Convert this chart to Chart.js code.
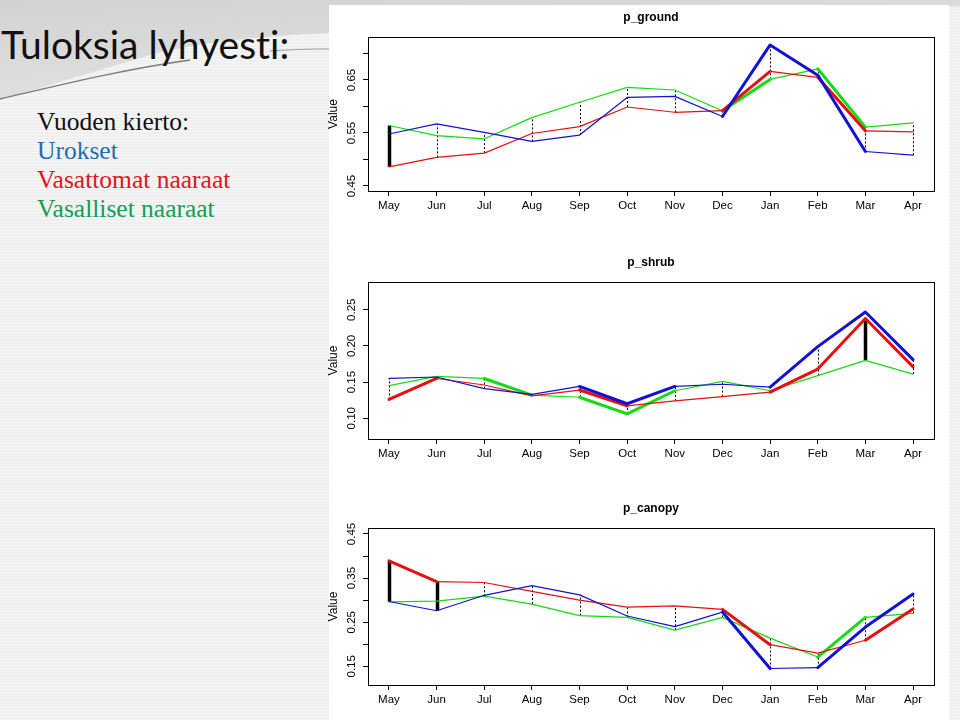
<!DOCTYPE html>
<html>
<head>
<meta charset="utf-8">
<script src="https://cdn.jsdelivr.net/npm/chart.js@4.4.1/dist/chart.umd.min.js"></script>
<style>
  body { margin: 0; width: 960px; height: 720px; overflow: hidden; position: relative;
         background: repeating-linear-gradient(0deg, #f6f6f6 0 1px, #efefef 1px 3px); }
  #swoosh { position: absolute; left: 0; top: 0; }
  #paper { position: absolute; left: 329px; top: 5px; width: 620px; height: 715px; background: #fff; }
  #heading { position: absolute; left: 1px; top: 25px; font: 39px/39px Lato, "Liberation Sans", sans-serif;
             font-variant-ligatures: none; font-feature-settings: "liga" 0, "clig" 0;
             color: #111; white-space: nowrap; }
  #notes { position: absolute; left: 37px; top: 107px; font: 25.5px/29px "Liberation Serif", "Times New Roman", serif; color: #111; white-space: nowrap; }
  .m { color: #1f6db3; }
  .f0 { color: #e3141b; }
  .f1 { color: #11a052; }
  canvas { position: absolute; left: 320px; }
</style>
</head>
<body>
<svg id="swoosh" width="960" height="120">
  <defs>
    <linearGradient id="g" x1="0" y1="0" x2="0.6" y2="1">
      <stop offset="0" stop-color="#d2d2d2"/>
      <stop offset="1" stop-color="#e4e4e4"/>
    </linearGradient>
  </defs>
  <path d="M0,0 H960 V6 C700,8 450,20 330,33 C260,36 200,42 150,55 C100,70 50,85 0,100 Z" fill="url(#g)"/>
  <path d="M0,99 C60,85 120,70 190,60" stroke="#7a7a7a" stroke-width="1.3" fill="none"/>
  <path d="M270,51 C300,49 315,49 330,49" stroke="#9a9a9a" stroke-width="1" fill="none"/>
</svg>
<div id="paper"></div>
<div id="heading">Tuloksia lyhyesti:</div>
<div id="notes">
  <div>Vuoden kierto:</div>
  <div class="m">Urokset</div>
  <div class="f0">Vasattomat naaraat</div>
  <div class="f1">Vasalliset naaraat</div>
</div>
<canvas id="ground" width="640" height="240" style="top:0px"></canvas>
<canvas id="shrub" width="640" height="240" style="top:245px"></canvas>
<canvas id="canopy" width="640" height="230" style="top:490px"></canvas>
<script>
const months = ['May', 'Jun', 'Jul', 'Aug', 'Sep', 'Oct', 'Nov', 'Dec', 'Jan', 'Feb', 'Mar', 'Apr'];

// p_ground
const groundMales  = [0.548, 0.567, 0.551, 0.534, 0.546, 0.617, 0.619, 0.581, 0.716, 0.659, 0.515, 0.508];
const groundNoCalf = [0.486, 0.504, 0.512, 0.549, 0.562, 0.599, 0.589, 0.592, 0.666, 0.655, 0.554, 0.552];
const groundCalf   = [0.564, 0.545, 0.539, 0.579, 0.608, 0.636, 0.631, 0.592, 0.651, 0.671, 0.561, 0.569];
const groundTicks  = ['0.45', '0.55', '0.65'];

// p_shrub
const shrubMales  = [0.155, 0.157, 0.141, 0.133, 0.144, 0.120, 0.144, 0.147, 0.143, 0.199, 0.247, 0.181];
const shrubNoCalf = [0.126, 0.155, 0.146, 0.131, 0.139, 0.117, 0.124, 0.130, 0.136, 0.168, 0.238, 0.171];
const shrubCalf   = [0.145, 0.158, 0.155, 0.132, 0.129, 0.106, 0.138, 0.151, 0.138, 0.159, 0.180, 0.161];
const shrubTicks  = ['0.10', '0.15', '0.20', '0.25'];

// p_canopy
const canopyMales  = [0.297, 0.276, 0.311, 0.333, 0.312, 0.264, 0.240, 0.273, 0.145, 0.147, 0.239, 0.314];
const canopyNoCalf = [0.389, 0.342, 0.340, 0.320, 0.300, 0.284, 0.287, 0.279, 0.199, 0.180, 0.209, 0.280];
const canopyCalf   = [0.296, 0.298, 0.309, 0.291, 0.265, 0.261, 0.232, 0.261, 0.214, 0.171, 0.261, 0.270];
const canopyTicks  = ['0.15', '0.25', '0.35', '0.45'];

const lineColors = ['#1212d2', '#e61010', '#14dc14'];
const font = '"Liberation Sans", Arial, sans-serif';

// box, title and the vertical difference lines between groups
const panelPlugin = {
  id: 'panel',
  beforeDatasetsDraw(chart, args, opts) {
    const ctx = chart.ctx, xs = chart.scales.x, ys = chart.scales.y;
    const sets = chart.data.datasets.map(d => d.data.map(p => p.y));
    ctx.save();
    ctx.strokeStyle = '#000';
    months.forEach((m, i) => {
      const pair = opts.bars[i];
      let lo, hi;
      if (pair) {
        lo = sets[pair[0]][i]; hi = sets[pair[1]][i];
        ctx.lineWidth = 3.5; ctx.setLineDash([]);
      } else {
        const v = sets.map(s => s[i]);
        lo = Math.min(...v); hi = Math.max(...v);
        ctx.lineWidth = 1; ctx.setLineDash([2, 2]);
      }
      const x = Math.round(xs.getPixelForValue(i)) + 0.5;
      ctx.beginPath();
      ctx.moveTo(x, ys.getPixelForValue(lo));
      ctx.lineTo(x, ys.getPixelForValue(hi));
      ctx.stroke();
    });
    ctx.restore();
  },
  afterDraw(chart, args, opts) {
    const ctx = chart.ctx, a = chart.chartArea;
    ctx.save();
    ctx.strokeStyle = '#000';
    ctx.lineWidth = 1;
    ctx.strokeRect(a.left + 0.5, a.top + 0.5, a.right - a.left, a.bottom - a.top);
    ctx.fillStyle = '#000';
    ctx.font = 'bold 12px ' + font;
    ctx.textAlign = 'center';
    ctx.textBaseline = 'middle';
    ctx.fillText(opts.title, (a.left + a.right) / 2, a.top - 19);
    ctx.restore();
  }
};

function makePanel(id, title, series, yMin, yMax, tickLabels, thick, bars, pad) {
  new Chart(document.getElementById(id), {
    type: 'line',
    data: {
      datasets: series.map((s, k) => ({
        data: s.map((v, i) => ({ x: i, y: v })),
        borderColor: lineColors[k],
        borderWidth: 1.2,
        borderCapStyle: 'round',
        borderJoinStyle: 'round',
        pointRadius: 0,
        tension: 0,
        segment: { borderWidth: c => thick[k].includes(c.p0DataIndex) ? 3 : 1.2 }
      }))
    },
    options: {
      responsive: false,
      animation: false,
      layout: { padding: pad },
      plugins: {
        legend: { display: false },
        tooltip: { enabled: false },
        panel: { title: title, bars: bars }
      },
      scales: {
        x: {
          type: 'linear', min: -0.44, max: 11.44,
          border: { display: false },
          grid: { drawOnChartArea: false, color: '#000', tickLength: 5 },
          ticks: { stepSize: 1, includeBounds: false, autoSkip: false, maxRotation: 0, padding: 3,
                   color: '#000', font: { family: font, size: 11.5 },
                   callback: v => months[v] },
          afterFit: s => { s.height = 24; }
        },
        y: {
          min: yMin, max: yMax,
          border: { display: false },
          grid: { drawOnChartArea: false, color: '#000', tickLength: 5 },
          ticks: { stepSize: 0.05, includeBounds: false, minRotation: 90, maxRotation: 90,
                   crossAlign: 'center', padding: 0, color: '#000', font: { family: font, size: 11.5 },
                   callback: v => { const t = v.toFixed(2); return tickLabels.includes(t) ? t : ''; } },
          title: { display: true, text: 'Value', color: '#000', font: { family: font, size: 12 },
                   padding: { top: 6, bottom: 0 } },
          afterFit: s => { s.width = 48; }
        }
      }
    },
    plugins: [panelPlugin]
  });
}

makePanel('ground', 'p_ground', [groundMales, groundNoCalf, groundCalf], 0.4405, 0.731, groundTicks,
  [[7, 8, 9], [7, 9], [7, 9]], { 0: [1, 2] },
  { left: 0, right: 26, top: 37, bottom: 25 });

makePanel('shrub', 'p_shrub', [shrubMales, shrubNoCalf, shrubCalf], 0.0713, 0.2884, shrubTicks,
  [[4, 5, 8, 9, 10], [0, 4, 8, 9, 10], [2, 4, 5]], { 10: [1, 2] },
  { left: 0, right: 26, top: 37, bottom: 22 });

makePanel('canopy', 'p_canopy', [canopyMales, canopyNoCalf, canopyCalf], 0.1076, 0.4636, canopyTicks,
  [[7, 9, 10], [0, 7, 10], [9]], { 0: [1, 0], 1: [1, 0] },
  { left: 0, right: 26, top: 38, bottom: 11 });
</script>
</body>
</html>
